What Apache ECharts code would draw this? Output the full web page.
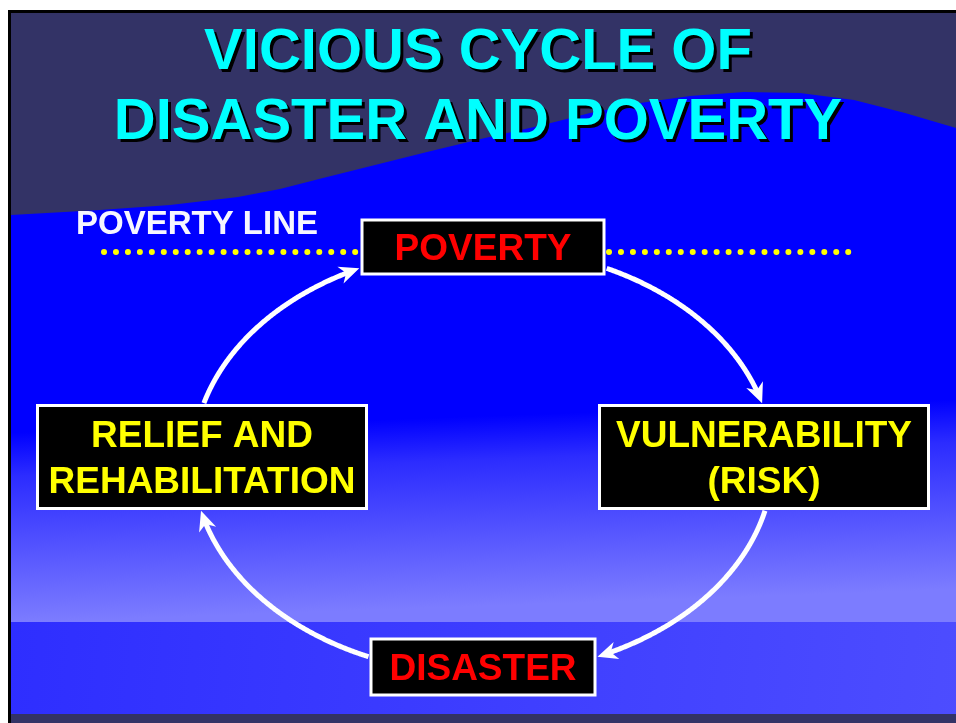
<!DOCTYPE html>
<html>
<head>
<meta charset="utf-8">
<script src="https://cdn.jsdelivr.net/npm/echarts@6/dist/echarts.min.js"></script>
<style>
  html, body { margin: 0; padding: 0; background: #fff; }
  #main { width: 956px; height: 723px; }
</style>
</head>
<body>
<div id="main"></div>
<script>
// --- content ---
const stages = ['POVERTY', 'VULNERABILITY\n(RISK)', 'DISASTER', 'RELIEF AND\nREHABILITATION'];
const titleLines = ['VICIOUS CYCLE OF', 'DISASTER AND POVERTY'];
const lineLabel = 'POVERTY LINE';

// --- layout (slide units, 1 unit = 1px) ---
const W = 956, H = 723;
const nodeRing = {cx: 483, cy: 457, rx: 281, ry: 210};   // box centres sit on this
const arcRing = {cx: 483, cy: 461, rx: 290, ry: 213};    // arrows run along this
const boxSizes = [[242, 54], [329, 103], [224, 56], [329, 103]];
const labelColors = ['#ff0000', '#ffff00', '#ff0000', '#ffff00'];
const titleY = [53, 123];

function ringPoint(r, deg) {
  const a = deg * Math.PI / 180;
  return [r.cx + r.rx * Math.cos(a), r.cy + r.ry * Math.sin(a)];
}
// clockwise from the top
const boxes = stages.map((s, i) => {
  const p = ringPoint(nodeRing, -90 + 90 * i);
  const [w, h] = boxSizes[i];
  return {x: p[0] - w / 2, y: p[1] - h / 2, w: w, h: h, c: p};
});
function insideBox(p) {
  return boxes.some(b => p[0] > b.x - 2 && p[0] < b.x + b.w + 2 && p[1] > b.y - 2 && p[1] < b.y + b.h + 2);
}
function arcPoints(i) {
  const a0 = -90 + 90 * i, pts = [];
  for (let d = a0; d <= a0 + 90; d += 0.25) {
    const p = ringPoint(arcRing, d);
    if (!insideBox(p)) pts.push(p);
  }
  return pts;
}

const chart = echarts.init(document.getElementById('main'));

const wave = [[11, 13], [W, 13], [W, 128], [905, 113], [854, 100], [800, 93], [744, 92], [690, 96],
  [640, 103], [590, 113], [543, 125], [485, 138], [427, 152], [375, 165], [323, 178], [280, 189],
  [238, 197], [170, 205], [100, 210], [11, 215]];

const titleFont = 'bold 58px "Liberation Sans"';
const titleTexts = [];
titleLines.forEach((t, k) => {
  titleTexts.push({type: 'text', silent: true,
    style: {x: 481, y: titleY[k] + 3, text: t, fill: '#000', font: titleFont, align: 'center', verticalAlign: 'middle'}});
  titleTexts.push({type: 'text', silent: true,
    style: {x: 478, y: titleY[k], text: t, fill: '#00ffff', font: titleFont, align: 'center', verticalAlign: 'middle'}});
});

const option = {
  backgroundColor: '#ffffff',
  animation: false,
  grid: {left: 0, right: 0, top: 0, bottom: 0},
  xAxis: {type: 'value', min: 0, max: W, show: false},
  yAxis: {type: 'value', min: 0, max: H, inverse: true, show: false},
  graphic: [
    {type: 'rect', shape: {x: 8, y: 10, width: W, height: H}, style: {fill: '#000'}, silent: true},
    {type: 'rect', shape: {x: 11, y: 13, width: W, height: H}, style: {fill: '#333366'}, silent: true},
    {type: 'rect', shape: {x: 11, y: 80, width: W, height: 542}, silent: true,
      style: {fill: new echarts.graphic.LinearGradient(0, 0, 0.02, 1, [
        {offset: 0, color: '#0000ff'}, {offset: 0.65, color: '#0000ff'},
        {offset: 0.73, color: '#2c2cff'}, {offset: 1, color: '#7c7cff'}])}},
    {type: 'polygon', shape: {points: wave}, style: {fill: '#333366'}, silent: true},
    {type: 'rect', shape: {x: 11, y: 622, width: W, height: 92}, silent: true,
      style: {fill: new echarts.graphic.LinearGradient(0, 0, 1, 1, [
        {offset: 0, color: '#2e2eff'}, {offset: 1, color: '#4d4dff'}])}},
    {type: 'line', shape: {x1: 104, y1: 252, x2: 356, y2: 252}, silent: true,
      style: {stroke: '#ffff00', lineWidth: 6, lineCap: 'round', lineDash: [0.01, 11.95]}},
    {type: 'line', shape: {x1: 609, y1: 252, x2: 852, y2: 252}, silent: true,
      style: {stroke: '#ffff00', lineWidth: 6, lineCap: 'round', lineDash: [0.01, 11.95]}},
    {type: 'text', silent: true,
      style: {x: 76, y: 225, text: lineLabel, fill: '#f6f6ff', font: 'bold 33px "Liberation Sans"', verticalAlign: 'middle'}}
  ].concat(titleTexts),
  series: [
    {
      // arrows between stages
      type: 'custom',
      coordinateSystem: 'cartesian2d',
      data: stages.map((s, i) => [i]),
      renderItem: function (params, api) {
        const i = api.value(0);
        const pts = arcPoints(i).map(p => api.coord(p));
        const T = pts[pts.length - 1], P = pts[pts.length - 8];
        let dx = T[0] - P[0], dy = T[1] - P[1];
        const len = Math.hypot(dx, dy); dx /= len; dy /= len;
        const nx = -dy, ny = dx;
        const L = 20, hw = 9;
        const B = [T[0] - dx * L, T[1] - dy * L];
        const notch = [T[0] - dx * 14, T[1] - dy * 14];
        const line = pts.filter(p => (T[0] - p[0]) * dx + (T[1] - p[1]) * dy > 12);
        return {
          type: 'group',
          children: [
            {type: 'polyline', shape: {points: line}, style: {stroke: '#ffffff', lineWidth: 5, fill: null}},
            {type: 'polygon', shape: {points: [T, [B[0] + nx * hw, B[1] + ny * hw], notch, [B[0] - nx * hw, B[1] - ny * hw]]},
              style: {fill: '#ffffff'}}
          ]
        };
      },
      z: 3
    },
    {
      // stage boxes
      type: 'custom',
      coordinateSystem: 'cartesian2d',
      data: stages.map((s, i) => [boxes[i].c[0], boxes[i].c[1], i]),
      renderItem: function (params, api) {
        const i = api.value(2);
        const c = api.coord([api.value(0), api.value(1)]);
        const [w, h] = boxSizes[i];
        return {
          type: 'group',
          children: [
            {type: 'rect', shape: {x: c[0] - w / 2, y: c[1] - h / 2, width: w, height: h},
              style: {fill: '#000', stroke: '#ffffff', lineWidth: 3}},
            {type: 'text', style: {x: c[0], y: c[1] + 3, text: stages[i], fill: labelColors[i],
              font: 'bold 37px "Liberation Sans"', align: 'center', verticalAlign: 'middle', lineHeight: 46}}
          ]
        };
      },
      z: 4
    }
  ]
};
chart.setOption(option);
</script>
</body>
</html>
